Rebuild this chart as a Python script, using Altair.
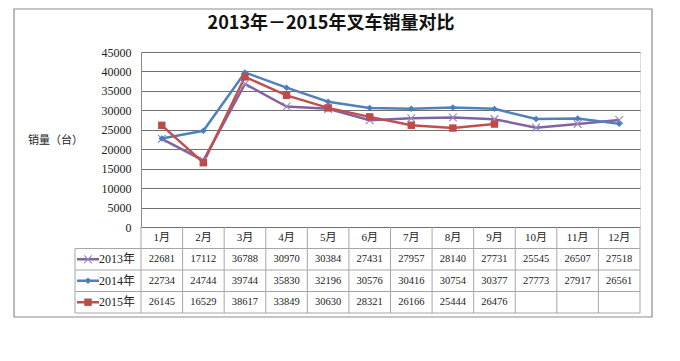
import altair as alt
import pandas as pd

# ---------------- data ----------------
months = ["1月", "2月", "3月", "4月", "5月", "6月", "7月", "8月", "9月", "10月", "11月", "12月"]
years = ["2013年", "2014年", "2015年"]
sales_2013 = [22681, 17112, 36788, 30970, 30384, 27431, 27957, 28140, 27731, 25545, 26507, 27518]
sales_2014 = [22734, 24744, 39744, 35830, 32196, 30576, 30416, 30754, 30377, 27773, 27917, 26561]
sales_2015 = [26145, 16529, 38617, 33849, 30630, 28321, 26166, 25444, 26476]
y_ticks = [0, 5000, 10000, 15000, 20000, 25000, 30000, 35000, 40000, 45000]
title_text = "2013年－2015年叉车销量对比"
y_title = "销量（台）"

colors = ["#8064A2", "#4F81BD", "#C0504D"]
marker_colors = ["#9C88C4", "#4A7EBB", "#BE4B48"]
FONT = "Liberation Serif, Noto Sans CJK SC"
CJK = "Noto Sans CJK SC"

W, H = 499, 175
COLW = W / 12
LEG = 66 / COLW          # width of legend column in x units

series = [sales_2013, sales_2014, sales_2015]
rows = []
for yi, (yr, vals) in enumerate(zip(years, series)):
    for i, v in enumerate(vals):
        rows.append({"year": yr, "month": months[i], "pos": i + 0.5, "value": v,
                     "r": yi + 1.5, "label": str(v)})
df = pd.DataFrame(rows)

xs = alt.Scale(domain=[0, 12], nice=False, zero=False)
X = alt.X("pos:Q", scale=xs, axis=None)

# ---------------- plot ----------------
yax = alt.Axis(values=y_ticks, format="d", ticks=False, domain=True, domainColor="#8a8a8a",
               grid=True, gridColor="#707070", gridWidth=1,
               labelFont=FONT, labelFontSize=12, labelColor="#222", labelPadding=10,
               title=y_title, titleFont=CJK, titleFontSize=11, titleFontWeight="normal",
               titleColor="#222", titleAngle=0, titleX=-86, titleY=88,
               titleAlign="center", titleBaseline="middle")
Yv = alt.Y("value:Q", scale=alt.Scale(domain=[0, 45000], nice=False, zero=True), axis=yax)

cscale = alt.Scale(domain=years, range=colors)
lines = alt.Chart(df).mark_line(strokeWidth=2.5).encode(
    x=X, y=Yv, color=alt.Color("year:N", scale=cscale, legend=None), order="pos:Q")

XPATH = "M-1,-1L1,1M-1,1L1,-1"
pt13 = alt.Chart(df[df.year == years[0]]).mark_point(
    shape=XPATH, filled=False, size=60, strokeWidth=1.2, color=marker_colors[0], opacity=1).encode(x=X, y=Yv)
pt14 = alt.Chart(df[df.year == years[1]]).mark_point(
    shape="diamond", filled=True, size=42, color=marker_colors[1], opacity=1).encode(x=X, y=Yv)
pt15 = alt.Chart(df[df.year == years[2]]).mark_point(
    shape="square", filled=True, size=55, color=marker_colors[2], opacity=1).encode(x=X, y=Yv)

plot = alt.layer(lines, pt13, pt14, pt15)

# ---------------- table ----------------
ts = alt.Scale(domain=[0, 4], range=[H, H + 86], nice=False, zero=False)

def TY(f):
    return alt.Y(f, scale=ts, axis=None)

vlines = pd.DataFrame(
    [{"x": k, "x2": k, "y": 0, "y2": 4} for k in range(1, 13)] +
    [{"x": 0, "x2": 0, "y": 0, "y2": 4}, {"x": -LEG, "x2": -LEG, "y": 1, "y2": 4}])
hlines = pd.DataFrame(
    [{"x": -LEG, "x2": 12, "y": r, "y2": r} for r in range(1, 5)])
grid_df = pd.concat([vlines, hlines], ignore_index=True)

tgrid = alt.Chart(grid_df).mark_rule(color="#a6a6a6", strokeWidth=1).encode(
    x=alt.X("x:Q", scale=xs, axis=None), x2="x2:Q", y=TY("y:Q"), y2="y2:Q")

hdr_df = pd.DataFrame({"pos": [i + 0.5 for i in range(12)], "r": 0.5, "label": months})
hdr = alt.Chart(hdr_df).mark_text(font=FONT, fontSize=11, color="#222").encode(
    x=X, y=TY("r:Q"), text="label:N")

vals = alt.Chart(df).mark_text(font=FONT, fontSize=10.5, color="#222").encode(
    x=X, y=TY("r:Q"), text="label:N")

leg_df = pd.DataFrame({"year": years, "r": [1.5, 2.5, 3.5],
                       "xa": -LEG + 2 / COLW, "xb": -LEG + 24 / COLW,
                       "xm": -LEG + 13 / COLW, "xt": -LEG + 24 / COLW})
leg_lines = alt.Chart(leg_df).mark_rule(strokeWidth=2.5).encode(
    x=alt.X("xa:Q", scale=xs, axis=None), x2="xb:Q", y=TY("r:Q"),
    color=alt.Color("year:N", scale=cscale, legend=None))
lm13 = alt.Chart(leg_df[leg_df.year == years[0]]).mark_point(
    shape=XPATH, filled=False, size=60, strokeWidth=1.2, color=marker_colors[0], opacity=1).encode(
    x=alt.X("xm:Q", scale=xs, axis=None), y=TY("r:Q"))
lm14 = alt.Chart(leg_df[leg_df.year == years[1]]).mark_point(
    shape="diamond", filled=True, size=42, color=marker_colors[1], opacity=1).encode(
    x=alt.X("xm:Q", scale=xs, axis=None), y=TY("r:Q"))
lm15 = alt.Chart(leg_df[leg_df.year == years[2]]).mark_point(
    shape="square", filled=True, size=55, color=marker_colors[2], opacity=1).encode(
    x=alt.X("xm:Q", scale=xs, axis=None), y=TY("r:Q"))
leg_text = alt.Chart(leg_df).mark_text(font=FONT, fontSize=12, color="#222", align="left").encode(
    x=alt.X("xt:Q", scale=xs, axis=None), y=TY("r:Q"), text="year:N")

table = alt.layer(tgrid, hdr, vals, leg_lines, lm13, lm14, lm15, leg_text)

# ---------------- frame & title ----------------
dummy = pd.DataFrame({"t": [title_text]})
frame = alt.Chart(dummy).mark_rect(fill="white", fillOpacity=0, stroke="#8c8c8c", strokeWidth=1.2).encode(
    x=alt.value(-127), x2=alt.value(511), y=alt.value(-43), y2=alt.value(265))
title = alt.Chart(dummy).mark_text(font=CJK, fontSize=18, fontWeight="bold", color="#111",
                                   align="center", baseline="middle").encode(
    x=alt.value(190), y=alt.value(-28), text="t:N")

chart = alt.layer(frame, title, plot, table).resolve_scale(y="independent").properties(
    width=W, height=H,
    autosize=alt.AutoSizeParams(type="none"),
    padding={"left": 133, "top": 44, "right": 24, "bottom": 110},
).configure_view(stroke="#8a8a8a", strokeWidth=1).configure(background="white")

chart.save("out.html", embed_options={"renderer": "svg", "actions": False})
